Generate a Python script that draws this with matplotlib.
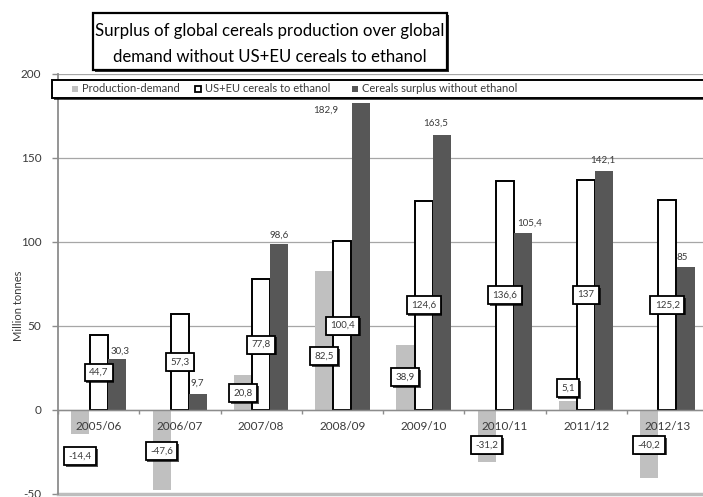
import matplotlib
matplotlib.use("Agg")
import matplotlib.pyplot as plt
from matplotlib.patches import Rectangle
from matplotlib import patheffects as pe
import numpy as np

plt.rcParams['font.family'] = ['Lato', 'DejaVu Sans']

# ---- data -------------------------------------------------------------
seasons = ["2005/06", "2006/07", "2007/08", "2008/09",
           "2009/10", "2010/11", "2011/12", "2012/13"]
production_demand = [-14.4, -47.6, 20.8, 82.5, 38.9, -31.2, 5.1, -40.2]
us_eu_ethanol = [44.7, 57.3, 77.8, 100.4, 124.6, 136.6, 137.0, 125.2]
surplus_without_ethanol = [30.3, 9.7, 98.6, 182.9, 163.5, 105.4, 142.1, 85.0]
series_names = ["Production-demand", "US+EU cereals to ethanol",
                "Cereals surplus without ethanol"]
y_ticks = [-50, 0, 50, 100, 150, 200]

# ---- label placement (data units / pixel offsets) -----------------------
pd_label_y = [-27.4, -24.4, 10.1, 32.1, 19.6, -20.8, 13.1, -20.8]
surplus_label_off = [(3.5, 8), (-1, 11), (0, 9), (-35, -7),
                     (-6, 12), (6, 10), (-2, 11), (-3, 10)]

W, H = 703, 497
LIGHT = "#c0c0c0"
DARK = "#575757"
TXT = "#3a3a3a"


def fx(x):
    return x / W


def fy(y):
    return 1 - y / H


def fmt(v):
    if abs(v - round(v)) < 1e-9:
        return str(int(round(v)))
    return f"{v:.1f}".replace(".", ",")


fig = plt.figure(figsize=(W / 100, H / 100), dpi=100)
ax = fig.add_axes([fx(58), 3 / H, 650 / W, 420 / H])

x = np.arange(len(seasons))
bw = 0.22
off = 0.225

ax.bar(x - off, production_demand, bw, color=LIGHT, zorder=2)
ax.bar(x, us_eu_ethanol, bw, color="white", edgecolor="black",
       linewidth=1.4, zorder=2)
ax.bar(x + off, surplus_without_ethanol, bw, color=DARK, zorder=2)

ax.set_xlim(-0.5, len(seasons) - 0.5)
ax.set_ylim(-50, 200)

# axes styling
for s in ("top", "right"):
    ax.spines[s].set_visible(False)
ax.spines["left"].set_color("#8c8c8c")
ax.spines["left"].set_linewidth(1.3)
ax.spines["bottom"].set_position(("data", 0))
ax.spines["bottom"].set_color("#8c8c8c")
ax.spines["bottom"].set_linewidth(1.0)
ax.axhline(-50, color="#bdbdbd", lw=2.5, clip_on=False, zorder=1)

ax.set_yticks(y_ticks)
ax.set_yticklabels([str(t) for t in y_ticks])
ax.tick_params(axis="y", length=4, width=1, color="#8c8c8c",
               labelsize=8.5, labelcolor=TXT, pad=8)
ax.yaxis.grid(True, color="#a6a6a6", lw=0.9, zorder=0)
ax.set_axisbelow(True)

# category boundaries as small ticks; season names drawn above the bars
ax.set_xticks(np.arange(-0.5, len(seasons) + 0.5, 1))
ax.set_xticklabels([])
ax.tick_params(axis="x", length=3, width=1, color="#8c8c8c")
for i, name in enumerate(seasons):
    ax.annotate(name, (x[i], 0), xytext=(0, -17 * 0.72),
                textcoords="offset points", ha="center", va="center",
                fontsize=8.5, color=TXT, zorder=6)

shadow = [pe.withSimplePatchShadow(offset=(1.2, -1.2),
                                   shadow_rgbFace="black", alpha=0.7)]

def boxed(xp, yp, s):
    t = ax.text(xp, yp, s, ha="center", va="center", fontsize=7,
                color=TXT, zorder=7,
                bbox=dict(boxstyle="square,pad=0.45", fc="white",
                          ec="black", lw=1.3))
    t.get_bbox_patch().set_path_effects(shadow)

for i in range(len(seasons)):
    boxed(x[i] - off, pd_label_y[i], fmt(production_demand[i]))
    boxed(x[i], us_eu_ethanol[i] / 2, fmt(us_eu_ethanol[i]))
    dx, dy = surplus_label_off[i]
    ax.annotate(fmt(surplus_without_ethanol[i]),
                (x[i] + off, surplus_without_ethanol[i]),
                xytext=(dx * 0.72, dy * 0.72), textcoords="offset points",
                ha="center", va="center", fontsize=7, color=TXT, zorder=5)

# y label
fig.text(fx(18), fy(306), "Million tonnes", rotation=90, ha="center",
         va="center", fontsize=8, color=TXT)

# title box
tb = Rectangle((fx(93), fy(70)), 354 / W, 57 / H, transform=fig.transFigure,
               fc="white", ec="black", lw=1.6, zorder=3)
tb.set_path_effects([pe.withSimplePatchShadow(offset=(1.5, -1.5),
                                              shadow_rgbFace="black",
                                              alpha=0.8)])
fig.add_artist(tb)
fig.text(fx(270), fy(31), "Surplus of global cereals production over global",
         ha="center", va="center", fontsize=12.1, color="black", zorder=4)
fig.text(fx(270), fy(57), "demand without US+EU cereals to ethanol",
         ha="center", va="center", fontsize=12.1, color="black", zorder=4)

# legend box
lb = Rectangle((fx(52), fy(98)), 670 / W, 18 / H, transform=fig.transFigure,
               fc="white", ec="black", lw=1.4, zorder=3)
lb.set_path_effects([pe.withSimplePatchShadow(offset=(1.2, -1.2),
                                              shadow_rgbFace="black",
                                              alpha=0.7)])
fig.add_artist(lb)
legend_items = [
    (72, dict(fc=LIGHT, ec="none", lw=0)),
    (195, dict(fc="white", ec="black", lw=1.3)),
    (352, dict(fc=DARK, ec="none", lw=0)),
]
for (mx, st), name in zip(legend_items, series_names):
    fig.add_artist(Rectangle((fx(mx), fy(92)), 6 / W, 6 / H,
                             transform=fig.transFigure, zorder=4, **st))
    fig.text(fx(mx + 10), fy(89), name, ha="left", va="center",
             fontsize=8, color=TXT, zorder=4)

fig.savefig("out.png", dpi=100)
